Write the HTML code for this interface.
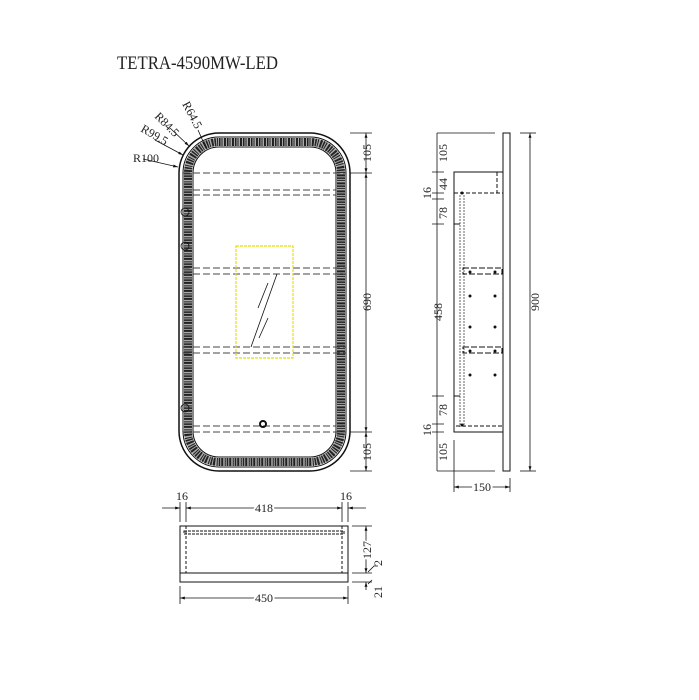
<!DOCTYPE html>
<html><head><meta charset="utf-8"><style>
html,body{margin:0;padding:0;background:#fff;width:699px;height:700px;overflow:hidden}
svg{display:block}
text{font-family:"Liberation Serif",serif;fill:#222}
</style></head><body>
<svg width="699" height="700" viewBox="0 0 699 700" xmlns="http://www.w3.org/2000/svg">
<defs>
<marker id="a" viewBox="0 0 10 10" refX="10" refY="5" markerWidth="6" markerHeight="6" orient="auto-start-reverse"><path d="M0,2 L10,5 L0,8 z" fill="#111"/></marker>
</defs>
<text x="117" y="69" font-size="19" textLength="161" lengthAdjust="spacingAndGlyphs">TETRA-4590MW-LED</text>

<!-- FRONT VIEW -->
<g fill="none" stroke="#111">
<rect x="179" y="133" width="171" height="338" rx="40" stroke-width="1.5"/>
<rect x="183" y="137" width="163" height="330" rx="36" stroke-width="1"/>
<rect x="188" y="142" width="153" height="320" rx="31" stroke="#aaa" stroke-width="8"/>
<rect x="188" y="142" width="153" height="320" rx="31" stroke="#222" stroke-width="8" stroke-dasharray="1.5 1 1 1.5 2 1"/>
<rect x="193" y="147" width="143" height="310" rx="26" stroke-width="1"/>
<g stroke="#444" stroke-dasharray="7 3" stroke-width="1">
<line x1="183" y1="173" x2="346" y2="173"/>
<line x1="193" y1="190" x2="336" y2="190"/>
<line x1="193" y1="195" x2="336" y2="195"/>
<line x1="183" y1="268" x2="346" y2="268"/>
<line x1="183" y1="274" x2="346" y2="274"/>
<line x1="183" y1="347" x2="346" y2="347"/>
<line x1="183" y1="353" x2="346" y2="353"/>
<line x1="193" y1="426" x2="336" y2="426"/>
<line x1="183" y1="432" x2="346" y2="432"/>
</g>
<rect x="236" y="246" width="57" height="112" stroke="#e8e000" stroke-width="1.2" stroke-dasharray="3 1"/>
<line x1="251" y1="347" x2="277" y2="274" stroke-width="0.8"/>
<line x1="258" y1="308" x2="268" y2="283" stroke-width="0.8"/>
<line x1="259" y1="338" x2="268" y2="318" stroke-width="0.8"/>
<circle cx="263" cy="424" r="3" stroke-width="2"/>
<circle cx="185" cy="212" r="4" stroke-width="0.8"/>
<circle cx="185" cy="246" r="4" stroke-width="0.8"/>
<circle cx="185" cy="408" r="4" stroke-width="0.8"/>
<line x1="350" y1="133" x2="372" y2="133" stroke-width="0.8"/>
<line x1="350" y1="173" x2="372" y2="173" stroke-width="0.8"/>
<line x1="350" y1="432" x2="372" y2="432" stroke-width="0.8"/>
<line x1="350" y1="471" x2="372" y2="471" stroke-width="0.8"/>
<line x1="366" y1="133" x2="366" y2="173" stroke-width="0.8" marker-start="url(#a)" marker-end="url(#a)"/>
<line x1="366" y1="173" x2="366" y2="432" stroke-width="0.8" marker-start="url(#a)" marker-end="url(#a)"/>
<line x1="366" y1="432" x2="366" y2="471" stroke-width="0.8" marker-start="url(#a)" marker-end="url(#a)"/>
<line x1="143" y1="159" x2="178" y2="167" stroke-width="0.8" marker-end="url(#a)"/>
<line x1="155" y1="140" x2="183" y2="155" stroke-width="0.8" marker-end="url(#a)"/>
<line x1="170" y1="128" x2="189" y2="146" stroke-width="0.8" marker-end="url(#a)"/>
<line x1="198" y1="130" x2="206" y2="148" stroke-width="0.8"/>
</g>
<g font-size="12">
<text x="133" y="162">R100</text>
<text transform="translate(140,131) rotate(30)">R99.5</text>
<text transform="translate(154,117) rotate(45)">R84.5</text>
<text transform="translate(182,104) rotate(62)">R64.5</text>
<text transform="translate(371,153) rotate(-90)" text-anchor="middle">105</text>
<text transform="translate(371,302) rotate(-90)" text-anchor="middle">690</text>
<text transform="translate(371,452) rotate(-90)" text-anchor="middle">105</text>
</g>

<!-- SIDE VIEW -->
<g fill="none" stroke="#111" stroke-width="1">
<rect x="503" y="133" width="7" height="338"/>
<rect x="454" y="172" width="49" height="260"/>
<path d="M497 172 V193 M454 193 H503" stroke-dasharray="4 2"/>
<path d="M460 195 V427 M464 195 V427" stroke="#666" stroke-dasharray="2 1"/>
<path d="M456 426 H503" stroke-dasharray="4 2"/>
<rect x="463" y="268" width="39" height="6" stroke-dasharray="6 2"/>
<rect x="463" y="347" width="39" height="6" stroke-dasharray="6 2"/>
<line x1="454" y1="224" x2="460" y2="224"/><line x1="454" y1="396" x2="460" y2="396"/>
<line x1="437" y1="133" x2="495" y2="133" stroke-width="0.8"/>
<line x1="437" y1="471" x2="495" y2="471" stroke-width="0.8"/>
<line x1="520" y1="133" x2="536" y2="133" stroke-width="0.8"/>
<line x1="520" y1="471" x2="536" y2="471" stroke-width="0.8"/>
<line x1="530" y1="133" x2="530" y2="471" stroke-width="0.8" marker-start="url(#a)" marker-end="url(#a)"/>
<line x1="437" y1="133" x2="437" y2="471" stroke-width="0.8"/>
<path d="M432 172 H444 M432 193 H444 M432 199 H444 M432 224 H444 M432 396 H444 M432 424 H444 M432 432 H444" stroke-width="0.8"/>
<line x1="454" y1="440" x2="454" y2="492" stroke-width="0.8"/>
<line x1="510" y1="478" x2="510" y2="492" stroke-width="0.8"/>
<line x1="454" y1="487" x2="510" y2="487" stroke-width="0.8" marker-start="url(#a)" marker-end="url(#a)"/>
</g>
<g fill="#111">
<circle cx="470" cy="272" r="1.5"/><circle cx="495" cy="272" r="1.5"/>
<circle cx="470" cy="296" r="1.5"/><circle cx="495" cy="296" r="1.5"/>
<circle cx="470" cy="327" r="1.5"/><circle cx="495" cy="327" r="1.5"/>
<circle cx="470" cy="351" r="1.5"/><circle cx="495" cy="351" r="1.5"/>
<circle cx="470" cy="375" r="1.5"/><circle cx="495" cy="375" r="1.5"/>
<circle cx="462" cy="193" r="1.5"/><circle cx="462" cy="425" r="1.5"/>
</g>
<g font-size="12">
<text transform="translate(447,153) rotate(-90)" text-anchor="middle">105</text>
<text transform="translate(447,184) rotate(-90)" text-anchor="middle">44</text>
<text transform="translate(431,193) rotate(-90)" text-anchor="middle">16</text>
<text transform="translate(447,213) rotate(-90)" text-anchor="middle">78</text>
<text transform="translate(442,312) rotate(-90)" text-anchor="middle">458</text>
<text transform="translate(447,410) rotate(-90)" text-anchor="middle">78</text>
<text transform="translate(431,430) rotate(-90)" text-anchor="middle">16</text>
<text transform="translate(447,452) rotate(-90)" text-anchor="middle">105</text>
<text transform="translate(539,302) rotate(-90)" text-anchor="middle">900</text>
<text x="482" y="491" text-anchor="middle" style="paint-order:stroke" stroke="#fff" stroke-width="4">150</text>
</g>

<!-- TOP VIEW -->
<g fill="none" stroke="#111" stroke-width="1">
<rect x="180" y="526" width="168" height="56"/>
<line x1="180" y1="573" x2="348" y2="573"/>
<line x1="186" y1="526" x2="186" y2="573" stroke-dasharray="3 2"/>
<line x1="342" y1="526" x2="342" y2="573" stroke-dasharray="3 2"/>
<rect x="184" y="531" width="160" height="3" stroke-dasharray="3 1"/>
<path d="M180 502 V522 M186 502 V522 M342 502 V522 M348 502 V522" stroke-width="0.8"/>
<line x1="162" y1="508" x2="180" y2="508" stroke-width="0.8" marker-end="url(#a)"/>
<line x1="186" y1="508" x2="342" y2="508" stroke-width="0.8" marker-start="url(#a)" marker-end="url(#a)"/>
<line x1="366" y1="508" x2="348" y2="508" stroke-width="0.8" marker-end="url(#a)"/>
<path d="M180 586 V604 M348 586 V604" stroke-width="0.8"/>
<line x1="180" y1="598" x2="348" y2="598" stroke-width="0.8" marker-start="url(#a)" marker-end="url(#a)"/>
<path d="M352 526 H372 M352 573 H372 M352 582 H372" stroke-width="0.8"/>
<line x1="366" y1="526" x2="366" y2="573" stroke-width="0.8" marker-start="url(#a)" marker-end="url(#a)"/>
<line x1="366" y1="590" x2="366" y2="582" stroke-width="0.8" marker-end="url(#a)"/>
<path d="M368 572 L374 566 H378 M368 584 L372 580" stroke-width="0.8"/>
</g>
<g font-size="12">
<text x="182" y="500" text-anchor="middle">16</text>
<text x="264" y="512" text-anchor="middle" style="paint-order:stroke" stroke="#fff" stroke-width="4">418</text>
<text x="346" y="500" text-anchor="middle">16</text>
<text x="264" y="602" text-anchor="middle" style="paint-order:stroke" stroke="#fff" stroke-width="4">450</text>
<text transform="translate(371,550) rotate(-90)" text-anchor="middle" style="paint-order:stroke" stroke="#fff" stroke-width="3">127</text>
<text transform="translate(382,563) rotate(-90)" text-anchor="middle">2</text>
<text transform="translate(382,592) rotate(-90)" text-anchor="middle">21</text>
</g>
</svg>
</body></html>
